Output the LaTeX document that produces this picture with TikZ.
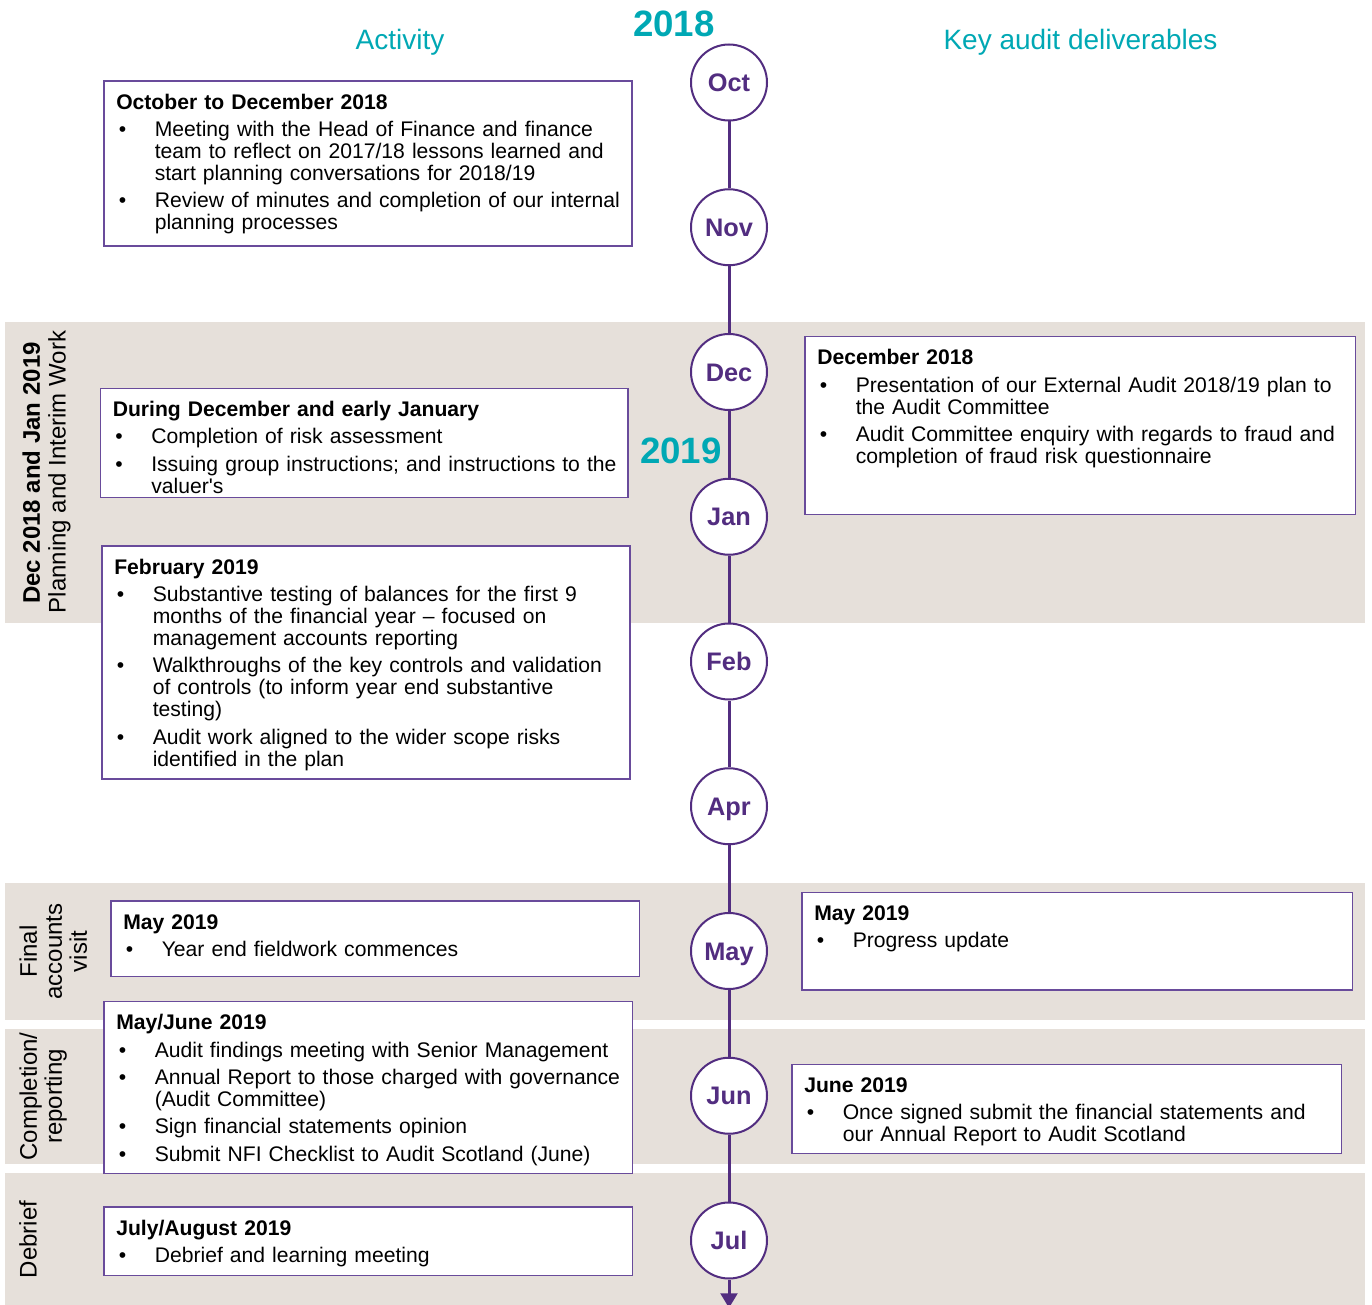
\documentclass[tikz,border=0pt]{standalone}
\usepackage{fontspec}
\setmainfont{Liberation Sans}[Ligatures=TeXOff]
\usetikzlibrary{calc,arrows.meta}
\definecolor{tpurple}{RGB}{82,45,128}
\definecolor{tboxc}{RGB}{105,75,155}
\definecolor{tteal}{RGB}{0,168,180}
\definecolor{tband}{RGB}{230,224,218}
\newcommand\itm[1]{\par\vspace{4pt}\hangindent=28.9pt\hangafter=1\noindent\makebox[28.9pt][l]{\hspace{2pt}\textbullet}#1\par}
\newcommand\hd[1]{\rule{0pt}{13pt}\textbf{#1}\par}
\newcommand\mkbox[5]{\node[abox, minimum width={(#4-#2)*0.75pt}, minimum height={(#5-#3)*0.75pt}] (#1) at (#2,#3) {};}
\newcommand\mktext[3]{\node[btext] (#1) at ($(#2.north west)+(12,10.67)$) {#3};}
\begin{document}
\begin{tikzpicture}[x=0.75pt,y=-0.75pt,
  band/.style={fill=tband},
  abox/.style={draw=tboxc, line width=0.8pt, fill=white, anchor=north west, inner sep=0pt, outer sep=0pt},
  btext/.style={anchor=north west, inner sep=0pt, text width=420pt, align=left, font=\fontsize{15.85}{16.5}\selectfont},
  hdr/.style={text=tteal, font=\fontsize{21}{21}\selectfont, anchor=base, inner sep=0pt},
  yr/.style={text=tteal, font=\fontsize{27.5}{27.5}\selectfont\bfseries, anchor=base, inner sep=0pt},
  mcirc/.style={circle, draw=tpurple, line width=1.5pt, fill=white, minimum size=57pt, inner sep=0pt,
    text=tpurple, font=\fontsize{19}{19}\selectfont\bfseries, text height=13.6pt, text depth=0pt},
  tline/.style={draw=tpurple, line width=2.25pt},
  side/.style={rotate=90, inner sep=0pt, font=\fontsize{18}{18.75}\selectfont, align=center}
]
\useasboundingbox (0,0) rectangle (1372,1305);
% bands
\fill[band] (5,322.5) rectangle (1365,622.5);
\fill[band] (5,883.3) rectangle (1365,1020);
\fill[band] (5,1029.3) rectangle (1365,1164.3);
\fill[band] (5,1172.7) rectangle (1365,1305);
% side labels
\node[side, anchor=base, font=\fontsize{18}{18.75}\selectfont\bfseries] (s1a) at (40,473) {Dec 2018 and Jan 2019};
\node[side, anchor=base] (s1b) at (65.5,472) {Planning and Interim Work};
\node[side, anchor=north] (s2) at (18.7,951.5) {\rule{0pt}{13.5pt}Final\\accounts\\visit};
\node[side, anchor=north] (s3) at (18.7,1096.5) {\rule{0pt}{13.5pt}Completion/\\reporting};
\node[side, anchor=base] (s4) at (36.7,1239.5) {Debrief};
% headers
\node[hdr] (act) at (400,50) {Activity};
\node[hdr] (kad) at (1080.5,50) {Key audit deliverables};
\node[yr] (y18) at (674,36.7) {2018};
\node[yr] (y19) at (681,463.3) {2019};
% timeline
\coordinate (tend) at (729,1308);
\node[mcirc] (oct) at (729,82.5) {Oct};
\node[mcirc] (nov) at (729,227.25) {Nov};
\node[mcirc] (dec) at (729,372) {Dec};
\node[mcirc] (jan) at (729,516.75) {Jan};
\node[mcirc] (feb) at (729,661.5) {Feb};
\node[mcirc] (apr) at (729,806.25) {Apr};
\node[mcirc] (may) at (729,951) {May};
\node[mcirc] (jun) at (729,1095.75) {Jun};
\node[mcirc] (jul) at (729,1240.5) {Jul};
\draw[tline] (oct) -- (nov);
\draw[tline] (nov) -- (dec);
\draw[tline] (dec) -- (jan);
\draw[tline] (jan) -- (feb);
\draw[tline] (feb) -- (apr);
\draw[tline] (apr) -- (may);
\draw[tline] (may) -- (jun);
\draw[tline] (jun) -- (jul);
\draw[tline, -{Triangle[width=12.5pt,length=11pt]}] (jul) -- (tend);
% left boxes
\mkbox{bA}{104}{81}{632}{246}
\mktext{tA}{bA}{\hd{October to December 2018}
\itm{Meeting with the Head of Finance and finance\newline team to reflect on 2017/18 lessons learned and\newline start planning conversations for 2018/19}
\itm{Review of minutes and completion of our internal\newline planning processes}}
\mkbox{bB}{100.5}{388.3}{628}{497.7}
\mktext{tB}{bB}{\hd{During December and early January}
\itm{Completion of risk assessment}
\itm{Issuing group instructions; and instructions to the\newline valuer's}}
\mkbox{bC}{102}{546}{630}{779}
\mktext{tC}{bC}{\hd{February 2019}
\itm{Substantive testing of balances for the first 9\newline months of the financial year – focused on\newline management accounts reporting}
\itm{Walkthroughs of the key controls and validation\newline of controls (to inform year end substantive\newline testing)}
\itm{Audit work aligned to the wider scope risks\newline identified in the plan}}
\mkbox{bD}{111}{901}{639.3}{976.5}
\mktext{tD}{bD}{\hd{May 2019}
\itm{Year end fieldwork commences}}
\mkbox{bE}{104}{1001.7}{632.3}{1173.3}
\mktext{tE}{bE}{\hd{May/June 2019}
\itm{Audit findings meeting with Senior Management}
\itm{Annual Report to those charged with governance\newline (Audit Committee)}
\itm{Sign financial statements opinion}
\itm{Submit NFI Checklist to Audit Scotland (June)}}
\mkbox{bF}{104}{1207}{632.3}{1275.5}
\mktext{tF}{bF}{\hd{July/August 2019}
\itm{Debrief and learning meeting}}
% right boxes
\mkbox{bG}{805}{336.5}{1355.5}{514.5}
\mktext{tG}{bG}{\hd{December 2018}
\itm{Presentation of our External Audit 2018/19 plan to\newline the Audit Committee}
\itm{Audit Committee enquiry with regards to fraud and\newline completion of fraud risk questionnaire}}
\mkbox{bH}{802}{892.3}{1352.3}{990}
\mktext{tH}{bH}{\hd{May 2019}
\itm{Progress update}}
\mkbox{bI}{792}{1064.3}{1341.7}{1153.3}
\mktext{tI}{bI}{\hd{June 2019}
\itm{Once signed submit the financial statements and\newline our Annual Report to Audit Scotland}}
\end{tikzpicture}
\end{document}
